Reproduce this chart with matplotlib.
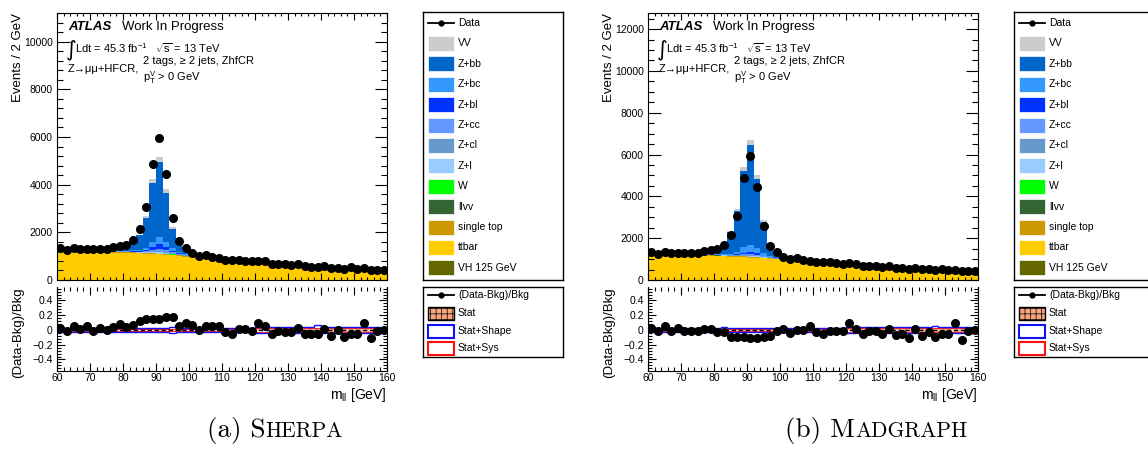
import numpy as np
import matplotlib.pyplot as plt
from matplotlib.patches import Rectangle
from matplotlib.lines import Line2D
from matplotlib.ticker import MultipleLocator

plt.rcParams['font.family'] = ['Liberation Sans', 'DejaVu Sans']
plt.rcParams['mathtext.fontset'] = 'custom'
plt.rcParams['mathtext.rm'] = 'Liberation Sans'
plt.rcParams['mathtext.it'] = 'Liberation Sans:italic'
plt.rcParams['mathtext.bf'] = 'Liberation Sans:bold'
plt.rcParams['hatch.linewidth'] = 0.5

W_PX, H_PX = 1148, 455

# m_ll binning, 2 GeV bins from 60 to 160
bin_edges = np.arange(60, 162, 2)
bin_centers = bin_edges[:-1] + 1

data = [1330, 1240, 1330, 1290, 1300, 1300, 1315, 1290, 1385, 1430,
        1470, 1680, 2130, 3060, 4860, 5940, 4460, 2590, 1620, 1340,
        1120, 1010, 1050, 950, 930, 850, 840, 840, 800, 785,
        810, 785, 685, 685, 655, 615, 655, 575, 560, 530,
        575, 505, 515, 475, 530, 460, 500, 420, 420, 435]

# backgrounds shared by both Z generators
ttbar = [1190, 1186, 1182, 1178, 1174, 1169, 1164, 1158, 1151, 1144,
         1136, 1127, 1117, 1105, 1091, 1075, 1057, 1035, 1010, 984,
         947, 919, 887, 854, 826, 798, 776, 754, 734, 715,
         683, 669, 652, 635, 610, 591, 574, 557, 539, 522,
         508, 494, 482, 471, 460, 447, 432, 418, 405, 392]
single_top = [34, 34, 34, 34, 34, 34, 33, 33, 33, 33,
              33, 33, 32, 32, 32, 32, 32, 31, 31, 31,
              30, 30, 29, 29, 28, 28, 28, 27, 27, 27,
              26, 26, 25, 25, 25, 24, 24, 23, 23, 23,
              22, 22, 21, 21, 21, 20, 20, 19, 19, 18]
llvv = [2, 2, 2, 2, 2, 2, 2, 2, 2, 2,
        2, 2, 2, 2, 2, 2, 2, 2, 2, 2,
        2, 2, 2, 2, 2, 2, 2, 2, 2, 2,
        2, 2, 2, 2, 2, 2, 2, 2, 2, 2,
        1, 1, 1, 1, 1, 1, 1, 1, 1, 1]
w_jets = [1, 1, 1, 1, 1, 1, 1, 1, 1, 1,
          1, 1, 1, 1, 1, 1, 1, 1, 1, 1,
          1, 1, 1, 1, 1, 1, 1, 1, 1, 1,
          1, 1, 1, 1, 1, 1, 1, 1, 1, 1,
          1, 1, 1, 1, 1, 1, 1, 1, 1, 1]
vh125 = [1, 1, 1, 1, 1, 1, 1, 1, 1, 1,
         1, 1, 1, 1, 1, 1, 1, 1, 1, 1,
         1, 1, 1, 1, 1, 1, 1, 1, 1, 1,
         1, 1, 1, 1, 1, 1, 1, 1, 1, 1,
         1, 1, 1, 1, 1, 1, 1, 1, 1, 1]

# Sherpa
zl_sh = [3, 3, 3, 3, 3, 3, 3, 4, 4, 5,
         6, 8, 12, 20, 45, 60, 45, 25, 12, 7,
         5, 4, 3, 3, 3, 3, 3, 3, 3, 3,
         3, 3, 3, 3, 3, 2, 2, 2, 2, 2,
         2, 2, 2, 2, 2, 2, 2, 2, 2, 2]
zcl_sh = [3, 3, 3, 3, 3, 3, 3, 4, 4, 5,
          6, 8, 10, 16, 35, 50, 38, 20, 10, 6,
          4, 3, 3, 3, 3, 3, 3, 3, 3, 3,
          3, 3, 2, 2, 2, 2, 2, 2, 2, 2,
          2, 2, 2, 2, 2, 2, 2, 2, 2, 2]
zcc_sh = [5, 5, 5, 5, 5, 6, 6, 7, 8, 9,
          11, 14, 20, 35, 70, 100, 75, 40, 18, 10,
          7, 5, 4, 4, 4, 4, 4, 4, 4, 4,
          4, 3, 3, 3, 3, 3, 3, 3, 3, 3,
          3, 3, 3, 3, 3, 3, 3, 3, 3, 3]
zbl_sh = [5, 5, 5, 5, 5, 6, 6, 7, 8, 10,
          12, 16, 24, 45, 110, 170, 120, 60, 28, 15,
          10, 7, 5, 4, 4, 4, 4, 4, 4, 4,
          4, 4, 4, 4, 3, 3, 3, 3, 3, 3,
          3, 3, 3, 3, 3, 3, 3, 3, 3, 3]
zbc_sh = [8, 8, 8, 8, 9, 9, 10, 11, 13, 16,
          20, 28, 45, 85, 200, 320, 230, 110, 50, 25,
          15, 10, 8, 7, 6, 6, 6, 6, 6, 6,
          5, 5, 5, 5, 5, 5, 5, 5, 5, 5,
          4, 4, 4, 4, 4, 4, 4, 4, 4, 4]
zbb_sh = [40, 41, 43, 45, 48, 52, 57, 70, 91, 113,
          164, 314, 605, 1253, 2493, 3158, 2065, 823, 339, 136,
          45, 32, 25, 22, 20, 19, 18, 17, 16, 16,
          15, 15, 15, 15, 14, 14, 14, 14, 13, 13,
          13, 13, 13, 13, 12, 12, 12, 12, 12, 12]
vv_sh = [5, 5, 5, 5, 5, 6, 6, 7, 8, 10,
         12, 20, 35, 70, 150, 200, 150, 70, 30, 15,
         10, 7, 5, 5, 4, 4, 4, 4, 4, 4,
         4, 4, 4, 4, 4, 4, 3, 3, 3, 3,
         3, 3, 3, 3, 3, 3, 3, 3, 3, 3]

# Madgraph
zl_mg = [3, 3, 3, 3, 3, 3, 3, 4, 4, 5,
         6, 8, 12, 20, 32, 40, 32, 18, 10, 6,
         4, 4, 3, 3, 3, 3, 3, 3, 3, 3,
         3, 3, 3, 3, 3, 2, 2, 2, 2, 2,
         2, 2, 2, 2, 2, 2, 2, 2, 2, 2]
zcl_mg = [3, 3, 3, 3, 3, 3, 3, 4, 4, 5,
          6, 8, 10, 15, 25, 30, 25, 14, 8, 5,
          4, 3, 3, 3, 3, 3, 3, 3, 3, 3,
          3, 3, 2, 2, 2, 2, 2, 2, 2, 2,
          2, 2, 2, 2, 2, 2, 2, 2, 2, 2]
zcc_mg = [5, 5, 5, 5, 5, 6, 6, 7, 8, 9,
          10, 14, 18, 30, 50, 60, 50, 28, 14, 8,
          6, 5, 4, 4, 4, 4, 4, 4, 4, 4,
          4, 3, 3, 3, 3, 3, 3, 3, 3, 3,
          3, 3, 3, 3, 3, 3, 3, 3, 3, 3]
zbl_mg = [5, 5, 5, 5, 5, 6, 6, 7, 8, 10,
          12, 16, 22, 40, 80, 100, 80, 40, 20, 12,
          8, 6, 5, 4, 4, 4, 4, 4, 4, 4,
          4, 4, 4, 4, 3, 3, 3, 3, 3, 3,
          3, 3, 3, 3, 3, 3, 3, 3, 3, 3]
zbc_mg = [8, 8, 8, 8, 9, 9, 10, 11, 13, 16,
          20, 28, 45, 90, 250, 310, 240, 110, 45, 22,
          14, 10, 8, 7, 6, 6, 6, 6, 6, 6,
          5, 5, 5, 5, 5, 5, 5, 5, 5, 5,
          4, 4, 4, 4, 4, 4, 4, 4, 4, 4]
zbb_mg = [48, 50, 52, 55, 58, 62, 68, 80, 125, 165,
          277, 471, 1040, 1981, 3658, 4787, 3317, 1477, 585, 281,
          86, 45, 32, 26, 22, 20, 19, 18, 17, 16,
          15, 15, 15, 15, 14, 14, 14, 14, 13, 13,
          13, 13, 13, 13, 12, 12, 12, 12, 12, 12]
vv_mg = [5, 5, 5, 5, 5, 6, 6, 7, 8, 10,
         15, 25, 40, 90, 190, 240, 180, 90, 40, 18,
         10, 7, 5, 5, 4, 4, 4, 4, 4, 4,
         4, 4, 4, 4, 4, 4, 3, 3, 3, 3,
         3, 3, 3, 3, 3, 3, 3, 3, 3, 3]

ratio_sh = [0.03, -0.02, 0.05, 0.02, 0.05, -0.01, 0.03, 0.00, 0.04, 0.08,
            0.04, 0.07, 0.12, 0.15, 0.15, 0.15, 0.17, 0.17, 0.06, 0.09,
            0.07, 0.00, 0.06, 0.06, 0.06, -0.03, -0.05, 0.02, 0.01, -0.01,
            0.10, 0.05, -0.05, -0.02, -0.03, -0.03, 0.03, -0.06, -0.06, -0.06,
            0.01, -0.08, 0.00, -0.09, -0.06, -0.05, 0.09, -0.11, -0.02, 0.00]
ratio_mg = [0.03, -0.01, 0.05, -0.01, 0.03, -0.02, -0.02, -0.02, 0.02, 0.02,
            -0.03, -0.03, -0.09, -0.10, -0.10, -0.11, -0.11, -0.09, -0.08, -0.02,
            0.01, -0.04, 0.00, 0.00, 0.05, -0.03, -0.05, -0.01, -0.02, -0.02,
            0.09, 0.01, -0.06, -0.02, -0.02, -0.05, 0.02, -0.07, -0.06, -0.11,
            0.01, -0.08, -0.03, -0.09, -0.05, -0.05, 0.09, -0.14, -0.02, 0.00]

# relative uncertainty bands (half widths)
stat_err = [0.015, 0.015, 0.015, 0.015, 0.015, 0.015, 0.015, 0.015, 0.015, 0.015,
            0.015, 0.01, 0.01, 0.01, 0.01, 0.01, 0.01, 0.01, 0.01, 0.01,
            0.015, 0.015, 0.015, 0.015, 0.015, 0.015, 0.015, 0.015, 0.015, 0.015,
            0.02, 0.02, 0.02, 0.02, 0.02, 0.02, 0.02, 0.02, 0.02, 0.025,
            0.025, 0.025, 0.025, 0.025, 0.025, 0.025, 0.025, 0.025, 0.025, 0.025]
shape_err_sh = [0.025, 0.025, 0.025, 0.025, 0.025, 0.025, 0.025, 0.025, 0.025, 0.025,
                0.025, 0.025, 0.025, 0.025, 0.025, 0.025, 0.025, 0.035, 0.025, 0.025,
                0.025, 0.025, 0.025, 0.025, 0.025, 0.025, 0.025, 0.025, 0.025, 0.025,
                0.035, 0.035, 0.035, 0.035, 0.035, 0.035, 0.035, 0.035, 0.035, 0.07,
                0.035, 0.035, 0.035, 0.035, 0.035, 0.035, 0.035, 0.035, 0.035, 0.035]
shape_err_mg = [0.025, 0.025, 0.025, 0.025, 0.025, 0.025, 0.025, 0.025, 0.025, 0.025,
                0.025, 0.035, 0.025, 0.025, 0.025, 0.025, 0.025, 0.025, 0.025, 0.025,
                0.025, 0.025, 0.025, 0.025, 0.025, 0.025, 0.03, 0.03, 0.03, 0.03,
                0.035, 0.035, 0.035, 0.035, 0.035, 0.035, 0.035, 0.035, 0.035, 0.035,
                0.035, 0.035, 0.035, 0.055, 0.035, 0.035, 0.035, 0.035, 0.035, 0.035]

sample_names = ['VV', 'Z+bb', 'Z+bc', 'Z+bl', 'Z+cc', 'Z+cl', 'Z+l',
                'W', 'llvv', 'single top', 'ttbar', 'VH 125 GeV']
sample_colors = {'VV': '#cccccc', 'Z+bb': '#0066cc', 'Z+bc': '#3399ff',
                 'Z+bl': '#0033ff', 'Z+cc': '#6699ff', 'Z+cl': '#6699cc',
                 'Z+l': '#99ccff', 'W': '#00ff00', 'llvv': '#336633',
                 'single top': '#cc9900', 'ttbar': '#ffcc00',
                 'VH 125 GeV': '#666600'}

stacks = {
    'sherpa': {'VH 125 GeV': vh125, 'ttbar': ttbar, 'single top': single_top,
               'llvv': llvv, 'W': w_jets, 'Z+l': zl_sh, 'Z+cl': zcl_sh,
               'Z+cc': zcc_sh, 'Z+bl': zbl_sh, 'Z+bc': zbc_sh, 'Z+bb': zbb_sh,
               'VV': vv_sh},
    'madgraph': {'VH 125 GeV': vh125, 'ttbar': ttbar, 'single top': single_top,
                 'llvv': llvv, 'W': w_jets, 'Z+l': zl_mg, 'Z+cl': zcl_mg,
                 'Z+cc': zcc_mg, 'Z+bl': zbl_mg, 'Z+bc': zbc_mg, 'Z+bb': zbb_mg,
                 'VV': vv_mg},
}
stack_order = ['VH 125 GeV', 'ttbar', 'single top', 'llvv', 'W', 'Z+l',
               'Z+cl', 'Z+cc', 'Z+bl', 'Z+bc', 'Z+bb', 'VV']

ratio_ticks = [-0.4, -0.2, 0, 0.2, 0.4]
ratio_tick_labels = ['\u22120.4', '\u22120.2', '0', '0.2', '0.4']
x_ticks = [60, 70, 80, 90, 100, 110, 120, 130, 140, 150, 160]

fig = plt.figure(figsize=(W_PX / 100, H_PX / 100), dpi=100)


def px_rect(x0, y0, x1, y1):
    return [x0 / W_PX, 1 - y1 / H_PX, (x1 - x0) / W_PX, (y1 - y0) / H_PX]


def ftext(x, y, s, **kw):
    return fig.text(x / W_PX, 1 - y / H_PX, s, **kw)


def draw_panel(ox, key, ratio, shape_err, ymax, ymajor, yminor):
    ax = fig.add_axes(px_rect(57 + ox, 13, 387 + ox, 280))
    bottom = np.zeros(len(data))
    for name in stack_order:
        top = bottom + np.asarray(stacks[key][name], float)
        ax.stairs(top, bin_edges, baseline=bottom, fill=True,
                  color=sample_colors[name], lw=0)
        bottom = top
    ax.plot(bin_centers, data, 'o', color='k', ms=5.5, zorder=5)
    ax.set_xlim(60, 160)
    ax.set_ylim(0, ymax)
    ax.xaxis.set_major_locator(MultipleLocator(10))
    ax.xaxis.set_minor_locator(MultipleLocator(2))
    ax.yaxis.set_major_locator(MultipleLocator(ymajor))
    ax.yaxis.set_minor_locator(MultipleLocator(yminor))
    ax.tick_params(which='both', direction='in', top=True, right=True,
                   labelsize=7.5, width=0.8)
    ax.tick_params(axis='y', which='major', length=9, pad=3)
    ax.tick_params(axis='y', which='minor', length=4.5)
    ax.tick_params(axis='x', which='major', length=5, labelbottom=False)
    ax.tick_params(axis='x', which='minor', length=2.5)

    rax = fig.add_axes(px_rect(57 + ox, 287, 387 + ox, 371))
    stat = np.asarray(stat_err)
    shp = np.asarray(shape_err)
    rax.stairs(stat, bin_edges, baseline=-stat, fill=True, facecolor='#f6a47c',
               edgecolor='#fde3d3', hatch='+++', lw=0)
    rax.stairs(stat + 0.005, bin_edges, baseline=-stat - 0.005, color='#ff2020', lw=0.7)
    rax.stairs(shp, bin_edges, baseline=-shp, color='#1010ff', lw=1.0)
    rax.axhline(0, color='k', ls='--', lw=1.0, dashes=(3, 2))
    rax.plot(bin_centers, ratio, 'o', color='k', ms=5.5, zorder=5)
    rax.set_xlim(60, 160)
    rax.set_ylim(-0.556, 0.583)
    rax.set_xticks(x_ticks)
    rax.xaxis.set_minor_locator(MultipleLocator(2))
    rax.set_yticks(ratio_ticks)
    rax.set_yticklabels(ratio_tick_labels)
    rax.yaxis.set_minor_locator(MultipleLocator(0.04))
    rax.spines['top'].set_visible(False)
    rax.tick_params(which='both', direction='in', top=True, right=True,
                    labelsize=7.5, width=0.8)
    rax.tick_params(axis='y', which='major', length=6, pad=3)
    rax.tick_params(axis='y', which='minor', length=3)
    rax.tick_params(axis='x', which='major', length=6, pad=1.5)
    rax.tick_params(axis='x', which='minor', length=3)

    ftext(18 + ox, 13, 'Events / 2 GeV', rotation=90, ha='center', va='top', fontsize=9.5)
    ftext(18 + ox, 333, '(Data-Bkg)/Bkg', rotation=90, ha='center', va='center', fontsize=9.5)
    ftext(387 + ox, 399, r'm$_{\mathrm{ll}}$ [GeV]', ha='right', va='baseline', fontsize=10)

    ftext(68 + ox, 27, 'ATLAS', fontsize=9.5, weight='bold', style='italic', va='center')
    ftext(122 + ox, 27, 'Work In Progress', fontsize=9.5, va='center')
    ftext(66 + ox, 50, '\u222b', family='DejaVu Sans', fontsize=15, va='center')
    ftext(75 + ox, 48, r'Ldt = 45.3 fb$^{-1}$', fontsize=8, va='center')
    ftext(155 + ox, 48, r'$\sqrt{\mathrm{s}}$ = 13 TeV', fontsize=8, va='center')
    ftext(68 + ox, 69, 'Z\u2192\u03bc\u03bc+HFCR,', fontsize=8, va='center')
    ftext(143 + ox, 61, '2 tags, \u2265 2 jets, ZhfCR', fontsize=8, va='center')
    ftext(143 + ox, 78, r'p$_{\mathrm{T}}^{\mathrm{V}}$ > 0 GeV', fontsize=8, va='center')


def draw_legends(ox):
    x0 = 423 + ox
    lax = fig.add_axes(px_rect(x0, 12, x0 + 140, 280))
    lax.set_xlim(0, 140)
    lax.set_ylim(268, 0)
    lax.set_xticks([])
    lax.set_yticks([])
    for sp in lax.spines.values():
        sp.set_linewidth(1.0)
    lax.add_line(Line2D([5, 31], [11, 11], color='k', lw=1.3))
    lax.plot([18], [11], 'o', color='k', ms=3.5)
    lax.text(35, 11, 'Data', fontsize=7.5, va='center')
    for i, name in enumerate(sample_names):
        yc = 11 + 20.4 * (i + 1)
        lax.add_patch(Rectangle((5, yc - 7.5), 26, 15, facecolor=sample_colors[name],
                                edgecolor='white', lw=0.5))
        lax.text(35, yc, name, fontsize=7.5, va='center')

    rl = fig.add_axes(px_rect(x0, 287, x0 + 140, 357))
    rl.set_xlim(0, 140)
    rl.set_ylim(70, 0)
    rl.set_xticks([])
    rl.set_yticks([])
    for sp in rl.spines.values():
        sp.set_linewidth(1.0)
    rows = [8, 26, 44, 61]
    rl.add_line(Line2D([5, 31], [rows[0], rows[0]], color='k', lw=1.3))
    rl.plot([18], [rows[0]], 'o', color='k', ms=3.5)
    rl.text(35, rows[0], '(Data-Bkg)/Bkg', fontsize=7.5, va='center')
    rl.add_patch(Rectangle((5, rows[1] - 6.5), 26, 13, facecolor='#f6a47c',
                           edgecolor='k', hatch='+++', lw=1.0))
    rl.text(35, rows[1], 'Stat', fontsize=7.5, va='center')
    rl.add_patch(Rectangle((5, rows[2] - 6.5), 26, 13, facecolor='white',
                           edgecolor='#1010ff', lw=1.5))
    rl.text(35, rows[2], 'Stat+Shape', fontsize=7.5, va='center')
    rl.add_patch(Rectangle((5, rows[3] - 6.5), 26, 13, facecolor='white',
                           edgecolor='#ff1010', lw=1.5))
    rl.text(35, rows[3], 'Stat+Sys', fontsize=7.5, va='center')


draw_panel(0, 'sherpa', ratio_sh, shape_err_sh, 11200, 2000, 400)
draw_legends(0)
draw_panel(591, 'madgraph', ratio_mg, shape_err_mg, 12770, 2000, 500)
draw_legends(591)

# captions in small caps
captions = [(207, '(a) S', 'HERPA'), (785, '(b) M', 'ADGRAPH')]
renderer = fig.canvas.get_renderer()
for x, head, tail in captions:
    t = ftext(x, 437, head, family='cmr10', fontsize=19.5, va='baseline')
    bb = t.get_window_extent(renderer=renderer)
    fig.text(bb.x1 / fig.bbox.width, 1 - 437 / H_PX, tail, family='cmr10',
             fontsize=15.5, va='baseline')

fig.savefig('out.png', dpi=100)
